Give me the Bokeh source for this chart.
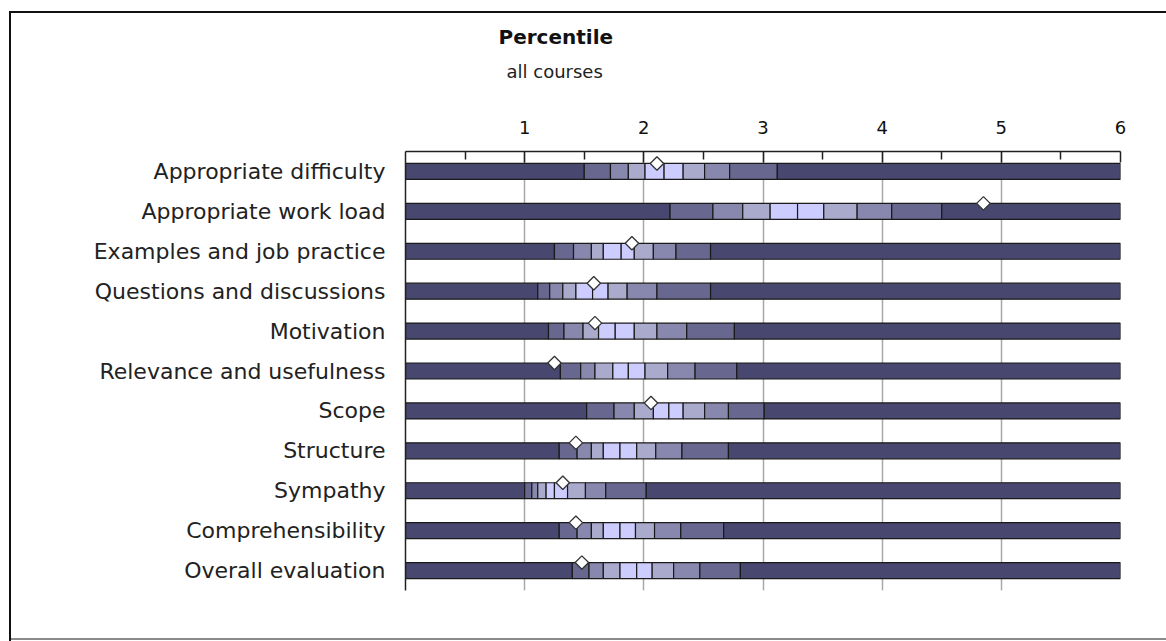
import numpy as np
from bokeh.plotting import figure
from bokeh.models import ColumnDataSource, FactorRange, FixedTicker, Title
from bokeh.transform import dodge
from bokeh.embed import file_html
from bokeh.resources import INLINE

# ---------------- data ----------------
categories = ["Appropriate difficulty", "Appropriate work load",
              "Examples and job practice", "Questions and discussions",
              "Motivation", "Relevance and usefulness", "Scope", "Structure",
              "Sympathy", "Comprehensibility", "Overall evaluation"]

p10 = [1.50, 2.22, 1.25, 1.11, 1.20, 1.30, 1.52, 1.29, 1.00, 1.29, 1.40]
p20 = [1.72, 2.58, 1.41, 1.21, 1.33, 1.47, 1.75, 1.44, 1.06, 1.44, 1.54]
p30 = [1.87, 2.83, 1.56, 1.32, 1.49, 1.59, 1.92, 1.56, 1.11, 1.56, 1.66]
p40 = [2.01, 3.06, 1.66, 1.43, 1.62, 1.74, 2.08, 1.66, 1.18, 1.66, 1.80]
p50 = [2.17, 3.29, 1.81, 1.57, 1.76, 1.87, 2.21, 1.80, 1.25, 1.80, 1.94]
p60 = [2.33, 3.51, 1.92, 1.70, 1.92, 2.01, 2.33, 1.94, 1.36, 1.93, 2.07]
p70 = [2.51, 3.79, 2.08, 1.86, 2.11, 2.20, 2.51, 2.10, 1.51, 2.09, 2.25]
p80 = [2.72, 4.08, 2.27, 2.11, 2.36, 2.43, 2.71, 2.32, 1.68, 2.31, 2.47]
p90 = [3.12, 4.50, 2.56, 2.56, 2.76, 2.78, 3.01, 2.71, 2.02, 2.67, 2.81]
course_value = [2.11, 4.85, 1.90, 1.58, 1.59, 1.25, 2.06, 1.43, 1.32, 1.43, 1.48]

scale_min = 0
scale_max = 6
tick_values = [1, 2, 3, 4, 5, 6]
minor_tick_values = [0.5, 1.5, 2.5, 3.5, 4.5, 5.5]

title_text = "Percentile"
subtitle_text = "all courses"

# ---------------- styles ----------------
FONT = "DejaVu Sans"
DARK = "#47476f"
C1 = "#67678f"
C2 = "#8888ae"
C3 = "#aaaacd"
C4 = "#ccccff"
seg_colors = [DARK, C1, C2, C3, C4, C4, C3, C2, C1, DARK]

# ---------------- build segments ----------------
pct = [p10, p20, p30, p40, p50, p60, p70, p80, p90]
ys, lefts, rights, fills = [], [], [], []
for i, cat in enumerate(categories):
    edges = [scale_min] + [arr[i] for arr in pct] + [scale_max]
    for k in range(10):
        ys.append(cat)
        lefts.append(edges[k])
        rights.append(edges[k + 1])
        fills.append(seg_colors[k])
seg_src = ColumnDataSource(dict(y=ys, left=lefts, right=rights, fill=fills))
mark_src = ColumnDataSource(dict(y=categories, x=course_value))

frame_css = ("linear-gradient(#111111,#111111) 9px 11px / 2px 630px no-repeat, "
             "linear-gradient(#111111,#111111) 9px 11px / 1157px 2px no-repeat, "
             "linear-gradient(#8a8a8a,#8a8a8a) 9px 638px / 1157px 2px no-repeat, "
             "white")

p = figure(width=1166, height=641,
           x_range=(scale_min, scale_max),
           y_range=FactorRange(factors=list(reversed(categories))),
           x_axis_location="above",
           output_backend="svg", toolbar_location=None,
           min_border_left=405, min_border_right=46,
           min_border_top=151, min_border_bottom=51)
p.outline_line_color = None
p.background_fill_color = "white"
p.border_fill_color = None
p.styles = {"background": frame_css}

# grid
p.ygrid.grid_line_color = None
p.xgrid.ticker = FixedTicker(ticks=tick_values)
p.xgrid.grid_line_color = "#a8a8a8"
p.xgrid.grid_line_width = 1.5

# x axis (top)
xa = p.xaxis[0]
xa.ticker = FixedTicker(ticks=tick_values, minor_ticks=minor_tick_values)
xa.axis_line_color = "#202020"
xa.axis_line_width = 1.5
xa.major_tick_in = 11
xa.major_tick_out = 0
xa.minor_tick_in = 8
xa.minor_tick_out = 0
xa.major_tick_line_color = "#202020"
xa.minor_tick_line_color = "#202020"
xa.major_tick_line_width = 1.5
xa.minor_tick_line_width = 1.5
xa.major_label_text_font = FONT
xa.major_label_text_font_size = "18px"
xa.major_label_text_color = "#111111"
xa.major_label_standoff = 18
# invisible spacer label to push the titles upward
xa.axis_label = " "
xa.axis_label_text_font_size = "2px"
xa.axis_label_standoff = 31

# y axis
ya = p.yaxis[0]
ya.axis_line_color = "#202020"
ya.axis_line_width = 1.5
ya.major_tick_line_color = None
ya.minor_tick_line_color = None
ya.major_label_text_font = FONT
ya.major_label_text_font_size = "22px"
ya.major_label_text_color = "#222222"
ya.major_label_standoff = 14

# bars
p.hbar(y="y", left="left", right="right", height=0.4, source=seg_src,
       fill_color="fill", line_color="#1a1a1a", line_width=1.2)

# course markers (diamonds on top edge of bar)
p.scatter(x="x", y=dodge("y", 0.2, range=p.y_range), source=mark_src,
          marker="square", angle=np.pi / 4, size=9.5,
          fill_color="white", line_color="#333333", line_width=1.3)

# titles (added inner first, outer last)
p.add_layout(Title(text=subtitle_text, align="left", offset=101,
                   text_font=FONT, text_font_size="18px",
                   text_font_style="normal", text_color="#222222",
                   standoff=0), "above")
p.add_layout(Title(text=title_text, align="left", offset=93,
                   text_font=FONT, text_font_size="20px",
                   text_font_style="bold", text_color="#111111",
                   standoff=20), "above")

open("out.html", "w").write(file_html(p, INLINE))
